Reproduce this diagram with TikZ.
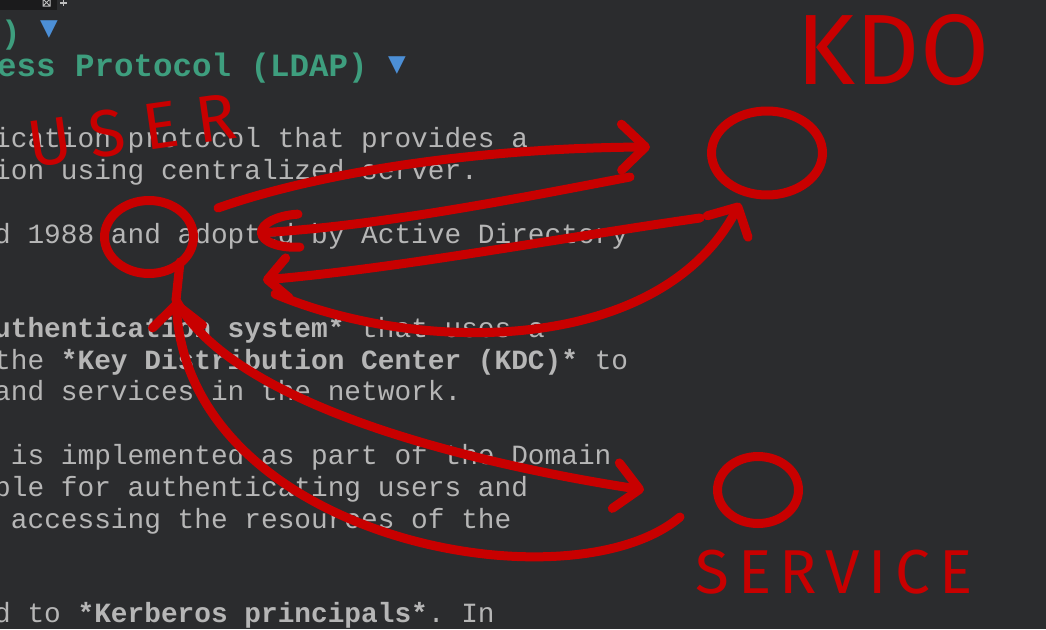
\documentclass[tikz,border=0pt]{standalone}
\usepackage{fontspec}
\setmonofont{Liberation Mono}
\newfontfamily\handfont{Fira Sans}
\newfontfamily\glyphfont{DejaVu Sans}
\usepackage{xcolor}
\usepackage{tikz}
\usetikzlibrary{arrows.meta}
\usetikzlibrary{shapes.geometric}
\usetikzlibrary{positioning}

\definecolor{editorbg}{HTML}{2B2C2E}
\definecolor{tabbg}{HTML}{1B1B1C}
\definecolor{plain}{HTML}{B6B6B6}
\definecolor{heading}{HTML}{3E9E7E}
\definecolor{fold}{HTML}{4C8FD6}
\definecolor{ink}{HTML}{C80000}

\begin{document}
\begin{tikzpicture}[x=1pt,y=-1pt,
  txt/.style={anchor=base west,inner sep=0pt,text=plain,font=\ttfamily\fontsize{27.8}{30}\selectfont},
  headline/.style={anchor=base west,inner sep=0pt,text=heading,font=\ttfamily\bfseries\fontsize{32.5}{34}\selectfont},
  foldmark/.style={inner sep=0pt,text=fold,font=\glyphfont\fontsize{23}{23}\selectfont},
  pen/.style={draw=ink,line width=9pt,line cap=round,line join=round},
  blob/.style={pen,ellipse,inner sep=0pt},
  scrawl/.style={inner sep=0pt,text=ink,font=\handfont\fontsize{#1}{#1}\selectfont}]
\useasboundingbox (0,0) rectangle (1046,629);
\clip (0,0) rectangle (1046,629);
\fill [editorbg] (0,0) rectangle (1046,629);
\fill [tabbg] (0,0) rectangle (57,10);
\draw [lightgray,line width=1pt] (43,-1) rectangle (50,6) (43,-1) -- (50,6) (43,6) -- (50,-1);
\draw [lightgray,line width=1.3pt] (60,3) -- (67,3) (63.5,-1) -- (63.5,6);

% editor text
\node [headline] (t0) at (1,43) {)};
\node [foldmark] (f0) at (49,30) {▼};
\node [headline] (t1) at (-3,76) {ess Protocol (LDAP)};
\node [foldmark] (f1) at (397,66) {▼};
\node [txt] (t2) at (-6,147) {ication protocol that provides a};
\node [txt] (t3) at (-6,179) {ion using centralized server.};
\node [txt] (t4) at (-6,243) {d 1988 and adopted by Active Directory};
\node [txt] (t5) at (-6,337) {{\bfseries uthentication system*} that uses a};
\node [txt] (t6) at (-6,369) {the {\bfseries *Key Distribution Center (KDC)*} to};
\node [txt] (t7) at (-6,400) {and services in the network.};
\node [txt] (t8) at (10.7,464) {is implemented as part of the Domain};
\node [txt] (t9) at (-6,496) {ble for authenticating users and};
\node [txt] (t10) at (10.7,528) {accessing the resources of the};
\node [txt] (t11) at (-6,622) {d to {\bfseries *Kerberos principals*}. In};

% scribbles
\node [blob,minimum width=89pt,minimum height=73pt] (user) at (149,237) {};
\node [blob,minimum width=111pt,minimum height=84pt] (kdc) at (767,153) {};
\node [blob,minimum width=81pt,minimum height=67pt] (service) at (758,490) {};
\coordinate (neck) at (176,300);

\node [scrawl=100] (kdclabel) at (893,50) {KDO};
\node [scrawl=66,rotate=8] (userlabel) at (132,130) {\addfontfeature{LetterSpace=28}USER};
\node [scrawl=62] (servicelabel) at (834,572) {\addfontfeature{LetterSpace=14}SERVICE};

\draw [pen] ([shift={(31,25)}]user.center) -- (neck);
\draw [pen] [-{Straight Barb[length=24pt,width=46pt,round]}] ([shift={(69,-29)}]user.center) .. controls (320,172) and (480,148) .. ([shift={(-117,-6)}]kdc.center);
\draw [pen] [-{Arc Barb[length=42pt,width=42pt,round]}] ([shift={(-137,24)}]kdc.center) .. controls (520,198) and (380,226) .. ([shift={(108,-4)}]user.center);
\draw [pen] [-{Straight Barb[length=20pt,width=40pt,round]}] ([shift={(-67,65)}]kdc.center) .. controls (560,238) and (400,268) .. ([shift={(114,43)}]user.center);
\draw [pen] [-{Straight Barb[length=22pt,width=46pt,round]}] ([shift={(126,57)}]user.center) .. controls (420,355) and (660,355) .. ([shift={(-27,50)}]kdc.center);
\draw [pen] [-{Straight Barb[length=22pt,width=50pt,round]}] ([shift={(-78,27)}]service.center) .. controls (570,610) and (190,540) .. (neck);
\draw [pen] [-{Straight Barb[length=24pt,width=46pt,round]}] (neck) .. controls (230,400) and (450,460) .. ([shift={(-114,0)}]service.center);
\end{tikzpicture}
\end{document}
